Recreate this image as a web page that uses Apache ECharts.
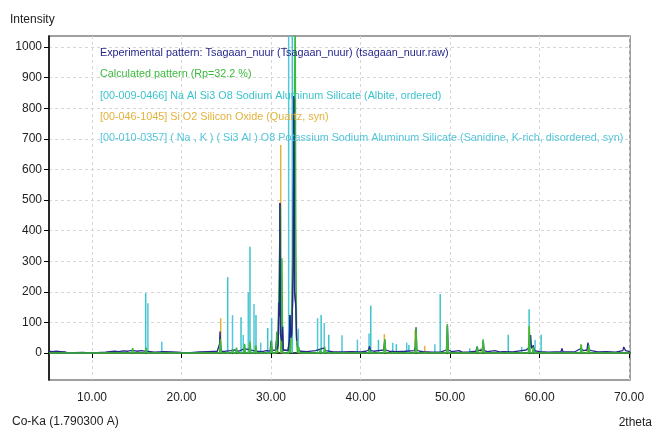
<!DOCTYPE html>
<html>
<head>
<meta charset="utf-8">
<script src="https://cdn.jsdelivr.net/npm/echarts@6/dist/echarts.min.js"></script>
<style>
  html, body { margin: 0; padding: 0; background: #fff; }
  #chart { width: 653px; height: 432px; }
</style>
</head>
<body>
<div id="chart"></div>
<script>
// axis ticks
const xTicks = [10, 20, 30, 40, 50, 60, 70];
const yTicks = [0, 100, 200, 300, 400, 500, 600, 700, 800, 900, 1000];

// series names (legend)
const expName = 'Experimental pattern: Tsagaan_nuur (Tsagaan_nuur) (tsagaan_nuur.raw)';
const calcName = 'Calculated pattern (Rp=32.2 %)';
const albiteName = '[00-009-0466] Na Al Si3 O8 Sodium Aluminum Silicate (Albite, ordered)';
const quartzName = '[00-046-1045] Si O2 Silicon Oxide (Quartz, syn)';
const sanidineName = '[00-010-0357] ( Na , K ) ( Si3 Al ) O8 Potassium Sodium Aluminum Silicate (Sanidine, K-rich, disordered, syn)';

// reference sticks
const albitePos = [16.0, 25.16, 26.65, 27.65, 28.32, 29.63, 32.38, 35.6, 36.45, 41.14, 42.0, 44.0, 45.4, 48.9, 56.5, 58.83, 60.17, 65.4];
const albiteInt = [196, 248, 117, 347, 124, 82, 1100, 124, 60, 155, 43, 29, 26, 193, 60, 143, 60, 30];
const sanidinePos = [16.25, 17.8, 25.7, 26.9, 27.46, 28.1, 28.85, 30.07, 31.3, 31.97, 33.05, 35.2, 35.95, 37.93, 39.65, 40.95, 43.6, 45.16, 48.3, 52.2, 58.0, 59.5];
const sanidineInt = [163, 37, 124, 59, 199, 160, 34, 115, 90, 1100, 80, 114, 98, 58, 44, 64, 34, 34, 29, 16, 20, 43];
const quartzPos = [24.38, 31.08, 42.66, 46.1, 47.17, 49.63, 53.4, 58.8, 64.6, 65.3];
const quartzInt = [114, 680, 62, 75, 24, 55, 15, 85, 29, 12];

// calculated pattern [2theta, counts]
const calcPoints = [
  [5.2, 0], [14.45, 0], [14.55, 16], [14.65, 0], [15.95, 0], [16.05, 18], [16.15, 0],
  [24.25, 0], [24.35, 45], [24.45, 0], [25.6, 0], [25.7, 12], [25.8, 0], [26.05, 0], [26.15, 18], [26.25, 0],
  [26.95, 0], [27.05, 30], [27.15, 0], [27.55, 0], [27.65, 38], [27.75, 0], [28.2, 0], [28.3, 25], [28.4, 0],
  [29.95, 0], [30.05, 40], [30.15, 0], [30.55, 0], [30.65, 70], [30.75, 0], [30.95, 0], [31.05, 480], [31.12, 0],
  [31.15, 0], [31.22, 310], [31.3, 0], [32.0, 0], [32.1, 45], [32.2, 0],
  [32.4, 0], [32.5, 420], [32.6, 420], [32.7, 1100], [32.76, 420], [32.85, 60], [32.95, 0],
  [33.0, 0], [33.1, 20], [33.2, 0], [35.4, 0], [35.5, 12], [35.6, 0], [35.9, 0], [36.0, 20], [36.1, 0],
  [40.9, 0], [41.0, 12], [41.1, 0], [42.6, 0], [42.72, 45], [42.82, 0], [46.1, 0], [46.2, 80], [46.3, 0],
  [49.6, 0], [49.7, 95], [49.8, 0], [52.95, 0], [53.05, 22], [53.15, 0], [53.6, 0], [53.7, 45], [53.8, 0],
  [58.75, 0], [58.85, 88], [58.95, 0], [59.2, 0], [59.3, 20], [59.4, 0], [64.55, 0], [64.65, 28], [64.75, 0],
  [65.4, 0], [65.5, 25], [65.6, 0], [70.1, 0]
];

// experimental pattern [2theta, counts]
const expPoints = [
  [5.2, 6], [5.6, 5], [6.0, 6], [6.5, 5], [7.0, 4], [7.3, 0], [8.0, 1], [9.0, 2], [10.0, 0], [11.0, 2],
  [11.5, 3], [12.0, 5], [12.5, 6], [13.0, 5], [13.5, 7], [14.0, 6], [14.5, 9], [15.0, 6], [15.5, 8], [15.9, 6],
  [16.0, 12], [16.1, 6], [16.5, 5], [17.0, 3], [18.0, 5], [19.0, 4], [20.0, 2], [21.0, 1], [22.0, 4], [23.0, 5],
  [24.0, 6], [24.15, 8], [24.25, 30], [24.3, 70], [24.38, 20], [24.5, 5], [25.5, 8], [26.0, 10], [26.2, 15], [26.4, 6],
  [27.0, 14], [27.5, 12], [28.0, 8], [28.5, 6], [29.0, 5], [29.5, 8], [29.9, 6], [30.0, 40], [30.1, 8], [30.5, 10],
  [30.6, 40], [30.7, 12], [30.8, 30], [30.88, 165], [30.95, 120], [31.0, 490], [31.06, 60], [31.2, 40], [31.28, 86], [31.36, 10],
  [31.9, 8], [32.05, 40], [32.12, 124], [32.2, 50], [32.3, 60], [32.4, 157], [32.48, 300], [32.56, 840], [32.64, 200], [32.78, 150],
  [32.86, 40], [33.0, 12], [33.3, 6], [34.0, 5], [35.0, 8], [35.4, 12], [35.6, 15], [35.9, 16], [36.1, 8], [36.5, 6],
  [37.0, 4], [38.0, 4], [39.0, 5], [40.0, 4], [40.6, 6], [40.9, 10], [41.0, 22], [41.1, 8], [41.5, 6], [42.0, 8],
  [42.6, 10], [42.7, 43], [42.8, 10], [43.2, 6], [44.0, 5], [45.0, 6], [46.0, 8], [46.12, 20], [46.2, 84], [46.28, 10],
  [46.6, 6], [47.0, 5], [48.0, 3], [49.0, 4], [49.6, 10], [49.7, 90], [49.8, 10], [50.2, 5], [51.0, 8], [51.3, 4],
  [52.0, 3], [52.9, 6], [53.0, 20], [53.1, 8], [53.6, 10], [53.7, 40], [53.8, 8], [54.2, 5], [55.0, 8], [55.5, 4],
  [56.0, 5], [57.0, 4], [58.0, 8], [58.5, 10], [58.9, 20], [59.0, 59], [59.1, 15], [59.3, 25], [59.4, 8], [60.0, 5],
  [61.0, 3], [62.4, 5], [62.5, 15], [62.6, 5], [63.0, 4], [64.0, 5], [64.6, 15], [64.9, 8], [65.3, 10], [65.4, 34],
  [65.5, 10], [65.8, 8], [66.5, 4], [67.5, 5], [68.5, 3], [69.3, 8], [69.4, 20], [69.6, 8], [70.1, 5]
];

// strong-peak window of the experimental pattern, drawn above the calculated line
const expPeakWindow = [30.7, 32.9];

const pairs = (xs, ys) => xs.map((x, i) => [x, ys[i]]);

const colExp = '#26268c';
const colCalc = '#3cb93c';
const colAlbite = '#3cc4cc';
const colQuartz = '#e3b23a';
const colSanidine = '#52c6dc';

const fontFam = '"Liberation Sans", Arial, sans-serif';

const stick = (name, xs, ys, color) => ({
  name: name,
  type: 'bar',
  data: pairs(xs, ys),
  barWidth: 1.5,
  barGap: '-100%',
  itemStyle: { color: color },
  emphasis: { disabled: true }
});

const expLine = (data) => ({
  name: expName,
  type: 'line',
  data: data,
  showSymbol: false,
  lineStyle: { color: colExp, width: 1.3 },
  itemStyle: { color: colExp },
  emphasis: { disabled: true }
});

const chart = echarts.init(document.getElementById('chart'), null, { renderer: 'canvas' });

chart.setOption({
  animation: false,
  backgroundColor: '#fff',
  grid: {
    left: 49, right: 23, top: 36, bottom: 52,
    show: true, borderColor: '#808080', borderWidth: 1.5
  },
  legend: {
    orient: 'vertical',
    left: 95, top: 46, padding: 0,
    icon: 'none',
    itemWidth: 0, itemHeight: 14, itemGap: 8.8,
    selectedMode: false,
    textStyle: { fontFamily: fontFam, fontSize: 10.8 },
    data: [
      { name: expName, textStyle: { color: colExp } },
      { name: calcName, textStyle: { color: colCalc } },
      { name: albiteName, textStyle: { color: colAlbite } },
      { name: quartzName, textStyle: { color: colQuartz } },
      { name: sanidineName, textStyle: { color: colSanidine } }
    ]
  },
  xAxis: {
    type: 'value',
    min: 5.2, max: 70.1,
    axisLine: { show: true, lineStyle: { color: '#000', width: 1.5 } },
    axisTick: { show: true, length: 5, customValues: xTicks, lineStyle: { color: '#000' } },
    axisLabel: {
      customValues: xTicks, margin: 12, color: '#222', fontFamily: fontFam, fontSize: 12,
      formatter: v => v.toFixed(2)
    },
    splitLine: { show: true, customValues: xTicks, lineStyle: { color: '#d6d6d6', type: [3, 3] } }
  },
  yAxis: {
    type: 'value',
    min: -88, max: 1036,
    axisLine: { show: true, lineStyle: { color: '#000', width: 1.5 } },
    axisTick: { show: true, length: 5, customValues: yTicks, lineStyle: { color: '#000' } },
    axisLabel: {
      customValues: yTicks, margin: 7, color: '#222', fontFamily: fontFam, fontSize: 12,
      formatter: v => String(v)
    },
    splitLine: { show: true, customValues: yTicks, lineStyle: { color: '#d6d6d6', type: [3, 3] } }
  },
  graphic: [
    { type: 'text', left: 10, top: 14, style: { text: 'Intensity', fill: '#222', font: '12px ' + fontFam } },
    { type: 'text', left: 12, top: 416, style: { text: 'Co-Ka (1.790300 A)', fill: '#222', font: '12px ' + fontFam } },
    { type: 'text', right: 1, top: 417, style: { text: '2theta', fill: '#222', font: '12px ' + fontFam } }
  ],
  series: [
    expLine(expPoints),
    stick(sanidineName, sanidinePos, sanidineInt, colSanidine),
    stick(albiteName, albitePos, albiteInt, colAlbite),
    stick(quartzName, quartzPos, quartzInt, colQuartz),
    {
      name: calcName,
      type: 'line',
      data: calcPoints,
      showSymbol: false,
      lineStyle: { color: colCalc, width: 1.5 },
      itemStyle: { color: colCalc },
      emphasis: { disabled: true }
    },
    expLine(expPoints.filter(p => p[0] >= expPeakWindow[0] && p[0] <= expPeakWindow[1]))
  ]
});
</script>
</body>
</html>
